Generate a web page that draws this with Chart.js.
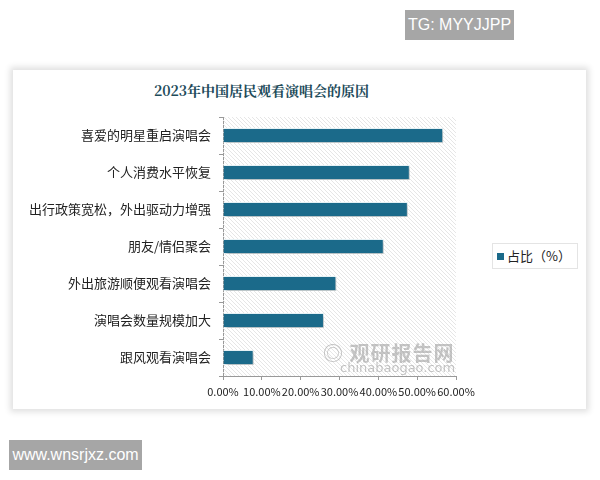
<!DOCTYPE html>
<html><head><meta charset="utf-8">
<script src="https://cdn.jsdelivr.net/npm/chart.js@4"></script>
<style>
html,body{margin:0;padding:0;background:#fff;width:600px;height:480px;overflow:hidden;font-family:"Noto Sans CJK SC",sans-serif;}
.card{position:absolute;left:13px;top:70px;width:573px;height:339px;background:#fff;box-shadow:0 0 6px 3px rgba(0,0,0,0.12);}
.title{position:absolute;left:13px;top:80px;width:497px;text-align:center;font-family:"Noto Serif CJK SC","Noto Sans CJK SC",serif;font-weight:bold;font-size:14px;color:#1d4b5a;}
.tag1{position:absolute;left:405px;top:10px;width:109px;height:30px;background:#a6a6a6;color:#fff;font-family:"Liberation Sans",sans-serif;font-size:16px;line-height:30px;text-align:center;}
.tag2{position:absolute;left:9px;top:440px;width:133px;height:30px;background:#a6a6a6;color:#fff;font-family:"Liberation Sans",sans-serif;font-size:16px;line-height:30px;text-align:center;}
.legend{position:absolute;left:492px;top:243px;width:84px;height:24px;border:1px solid #e4e4e4;background:#fff;font-size:13px;color:#222;line-height:24px;}
.legend i{display:inline-block;width:7px;height:7px;background:#1b6a8a;margin:0 3px 1px 4px;vertical-align:middle;}
#wrap{position:absolute;left:13px;top:110px;width:575px;height:300px;}
.wm{position:absolute;left:323px;top:338px;color:rgba(150,150,150,0.55);font-weight:bold;font-size:20px;letter-spacing:1px;}
.wm2{position:absolute;left:340px;top:360px;color:rgba(150,150,150,0.55);font-family:"DejaVu Sans",sans-serif;font-size:13px;}
</style></head>
<body>
<div class="tag1">TG: MYYJJPP</div>
<div class="card"></div>
<div class="title">2023年中国居民观看演唱会的原因</div>
<div id="wrap"><canvas id="c" width="575" height="300"></canvas></div>
<div class="wm">◎ 观研报告网</div>
<div class="wm2">chinabaogao.com</div>
<div class="legend"><i></i>占比（%）</div>
<div class="tag2">www.wnsrjxz.com</div>
<script>
const categories = ["喜爱的明星重启演唱会","个人消费水平恢复","出行政策宽松，外出驱动力增强","朋友/情侣聚会","外出旅游顺便观看演唱会","演唱会数量规模加大","跟风观看演唱会"];
const seriesName = "占比（%）";
const shareValues = [56.7, 48.1, 47.6, 41.4, 29.2, 26.0, 7.9];
const xTicks = [0, 10, 20, 30, 40, 50, 60];

const hatch = {
  id:'hatch',
  beforeDatasetsDraw(chart){
    const {ctx, chartArea:a} = chart;
    ctx.save();
    ctx.beginPath(); ctx.rect(a.left, a.top, a.right-a.left, a.bottom-a.top); ctx.clip();
    ctx.strokeStyle = '#e6e6e6'; ctx.lineWidth = 1;
    const h = a.bottom - a.top;
    for(let x = a.left - h; x < a.right + 4; x += 4){
      ctx.beginPath(); ctx.moveTo(x, a.top); ctx.lineTo(x + h, a.bottom); ctx.stroke();
    }
    ctx.restore();
  }
};
const shadow = {
  id:'shadow',
  beforeDatasetDraw(chart){ const c=chart.ctx; c.save(); c.shadowColor='rgba(0,0,0,0.25)'; c.shadowBlur=3; c.shadowOffsetX=2; c.shadowOffsetY=2; },
  afterDatasetDraw(chart){ chart.ctx.restore(); }
};

new Chart(document.getElementById('c'), {
  type:'bar',
  data:{ labels: categories, datasets:[{ label: seriesName, data: shareValues,
    backgroundColor:'#1b6a8a', borderColor:'#e8f4f8', borderWidth:1,
    barPercentage:0.4, categoryPercentage:1.0 }]},
  options:{
    indexAxis:'y', responsive:false, animation:false,
    layout:{ padding:{ top:7, right:132, left:0, bottom:0 } },
    plugins:{ legend:{display:false}, title:{display:false}, tooltip:{enabled:false} },
    scales:{
      x:{ min:0, max:60, afterBuildTicks(s){ s.ticks = xTicks.map(v=>({value:v})); },
        afterFit(s){ s.height = 34; s.paddingLeft = 0; s.paddingRight = 0; },
        grid:{ drawOnChartArea:false, drawTicks:true, tickLength:4, color:'#999' },
        border:{ color:'#999' },
        ticks:{ padding:5, color:'#222', font:{ family:'"Noto Sans CJK SC", sans-serif', size:11 }, maxRotation:0, autoSkip:false,
          callback:(v)=> v.toFixed(2)+'%' } },
      y:{ afterFit(s){ s.width = 210; s.paddingTop = 0; s.paddingBottom = 0; },
        grid:{ drawOnChartArea:false, drawTicks:true, tickLength:4, color:'#999', offset:true },
        border:{ color:'#999' },
        ticks:{ padding:8, color:'#222', font:{ family:'"Noto Sans CJK SC", sans-serif', size:13 } } }
    }
  },
  plugins:[hatch, shadow]
});
</script>
</body></html>
